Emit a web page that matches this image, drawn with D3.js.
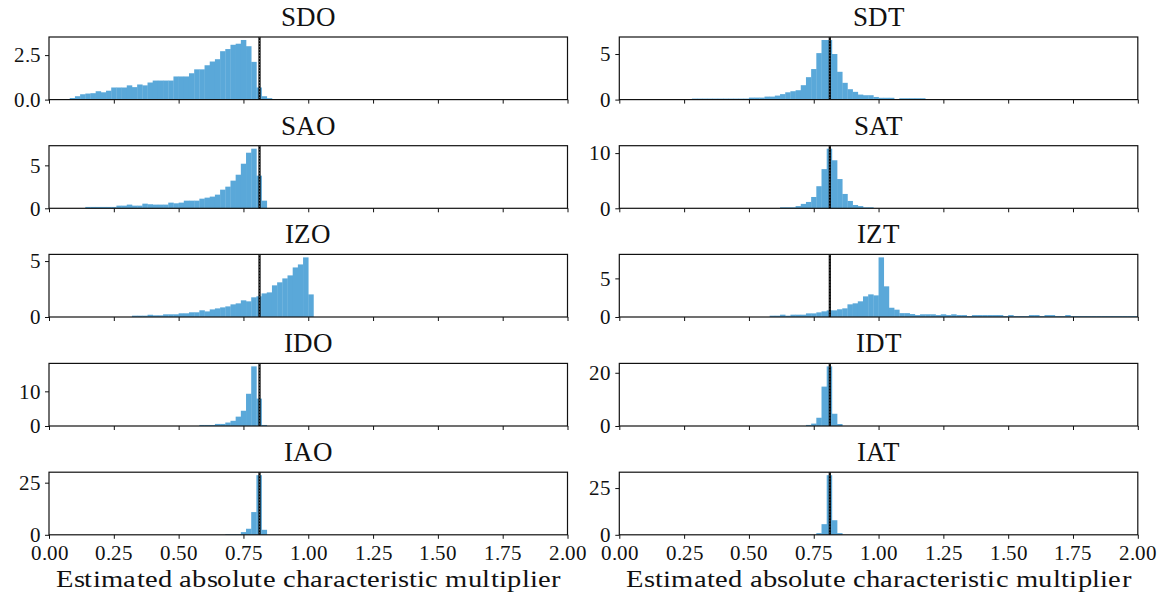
<!DOCTYPE html>
<html>
<head>
<meta charset="utf-8">
<script src="https://cdn.jsdelivr.net/npm/d3@7"></script>
<style>
  @font-face {
    font-family: "ChartSerif";
    src: local("Liberation Serif"), local("LiberationSerif"), local("LiberationSerif-Regular"),
         local("Tinos"), local("Tinos-Regular"),
         local("DejaVu Serif"), local("DejaVuSerif"),
         local("Noto Serif"), local("NotoSerif-Regular");
  }
  html, body { margin: 0; padding: 0; background: #fff; }
  svg { display: block; }
</style>
</head>
<body>
<svg id="chart" width="1173" height="598"></svg>
<script>
// Histogram bin width shared by all panels
const binWidth = 0.02;
// Reference multiplier marked by the vertical line
const refValue = 0.812;

// Panel titles (left column = O models, right column = T models)
const leftTitles = ["SDO", "SAO", "IZO", "IDO", "IAO"];
const rightTitles = ["SDT", "SAT", "IZT", "IDT", "IAT"];

// First bin edge of each histogram
const sdoStart = 0.08, saoStart = 0.14, izoStart = 0.32, idoStart = 0.58, iaoStart = 0.68;
const sdtStart = 0.28, satStart = 0.62, iztStart = 0.58, idtStart = 0.72, iatStart = 0.76;

// Density per bin
const sdoDensity = [0.09, 0.19, 0.3, 0.34, 0.36, 0.47, 0.41, 0.5, 0.68, 0.68,
  0.68, 0.8, 0.7, 0.85, 0.8, 0.96, 1.07, 1.07, 1.07, 1.07,
  1.3, 1.3, 1.3, 1.48, 1.7, 1.7, 1.93, 2.14, 2.27, 2.72,
  2.84, 3.08, 3.14, 3.35, 3.0, 2.12, 0.68, 0.19, 0.08];
const saoDensity = [0.16, 0.16, 0.16, 0.16, 0.16, 0.16, 0.31, 0.31, 0.43, 0.31,
  0.31, 0.54, 0.47, 0.43, 0.43, 0.43, 0.66, 0.58, 0.66, 0.89,
  0.89, 0.89, 1.12, 1.24, 1.36, 1.59, 2.17, 2.52, 3.22, 3.91,
  5.19, 6.47, 6.94, 3.8, 0.89];
const izoDensity = [0.12, 0.12, 0.12, 0.2, 0.15, 0.15, 0.24, 0.24, 0.24, 0.33,
  0.33, 0.42, 0.42, 0.6, 0.5, 0.68, 0.77, 0.86, 0.95, 1.13,
  1.22, 1.49, 1.4, 1.76, 1.85, 2.11, 2.2, 2.83, 3.1, 3.45,
  3.72, 4.43, 4.7, 5.33, 2.02];
const idoDensity = [0.3, 0.3, 0.3, 0.6, 0.6, 1.0, 1.5, 2.7, 4.4, 9.3, 17.2, 7.9, 0.3];
const iaoDensity = [0.3, 0.3, 0.3, 1.3, 2.9, 10.9, 28.6, 2.4];
const sdtDensity = [0.11, 0.11, 0.11, 0.11, 0.11, 0.11, 0.11, 0.11, 0.11, 0.11,
  0.11, 0.22, 0.22, 0.22, 0.33, 0.33, 0.44, 0.6, 0.8, 0.92,
  1.03, 1.58, 2.46, 3.35, 5.1, 6.54, 6.54, 5.0, 3.05, 1.84,
  1.14, 0.85, 0.55, 0.48, 0.48, 0.29, 0.2, 0.2, 0.2, 0.06,
  0.15, 0.15, 0.15, 0.15, 0.15];
const satDensity = [0.18, 0.18, 0.18, 0.4, 0.8, 1.15, 2.05, 4.0, 7.1, 10.8,
  8.7, 5.3, 2.6, 1.33, 0.6, 0.4, 0.18, 0.18];
const iztDensity = [0.17, 0.17, 0.3, 0.17, 0.3, 0.3, 0.3, 0.47, 0.47, 0.6,
  0.73, 0.86, 0.86, 1.0, 1.12, 1.64, 1.77, 2.03, 2.67, 2.93,
  2.8, 7.72, 3.97, 1.2, 0.95, 0.5, 0.5, 0.38, 0.25, 0.35,
  0.35, 0.35, 0.25, 0.35, 0.25, 0.35, 0.25, 0.25, 0.12, 0.25,
  0.25, 0.25, 0.25, 0.25, 0.25, 0.12, 0.25, 0.12, 0.12, 0.12,
  0.25, 0.25, 0.12, 0.25, 0.25, 0.12, 0.12, 0.25, 0.12, 0.12,
  0.12, 0.12, 0.12, 0.12, 0.12, 0.12, 0.12, 0.12, 0.12, 0.12, 0.12];
const idtDensity = [0.4, 0.9, 3.1, 14.8, 22.4, 4.6, 0.75];
const iatDensity = [0.9, 5.7, 31.9, 7.8, 0.9];

// Y tick values per panel
const leftYTicks = [[0, 2.5], [0, 5], [0, 5], [0, 10], [0, 25]];
const rightYTicks = [[0, 5], [0, 10], [0, 5], [0, 20], [0, 25]];
const leftYFormat = [".1f", "d", "d", "d", "d"];
const rightYFormat = ["d", "d", "d", "d", "d"];

// X axis ticks and label
const xTicks = [0, 0.25, 0.5, 0.75, 1.0, 1.25, 1.5, 1.75, 2.0];
const xLabel = "Estimated absolute characteristic multiplier";

const leftStarts = [sdoStart, saoStart, izoStart, idoStart, iaoStart];
const rightStarts = [sdtStart, satStart, iztStart, idtStart, iatStart];
const leftData = [sdoDensity, saoDensity, izoDensity, idoDensity, iaoDensity];
const rightData = [sdtDensity, satDensity, iztDensity, idtDensity, iatDensity];

// Layout
const colLeft = [49, 619.3];
const panelW = 518.5;
const rowTop = [37, 145.7, 254.4, 363.4, 472.2];
const panelH = 62.6;
const barColor = "#5aa8d9";
const serif = "ChartSerif, 'Liberation Serif', 'DejaVu Serif', serif";

const svg = d3.select("#chart");

function bins(start, values) {
  return values.map((v, i) => {
    const x0 = +(start + i * binWidth).toFixed(4);
    return { x0, x1: +(x0 + binWidth).toFixed(4), v };
  });
}

function drawPanel(col, row, title, start, values, yTicks, yFmt) {
  const left = colLeft[col], top = rowTop[row];
  const g = svg.append("g").attr("transform", `translate(${left},${top})`);
  const x = d3.scaleLinear().domain([0, 2]).range([0, panelW]);
  const yMax = d3.max(values) * 1.05;
  const y = d3.scaleLinear().domain([0, yMax]).range([panelH, 0]);
  const data = bins(start, values);

  g.selectAll("rect.bar").data(data).join("rect")
    .attr("class", "bar")
    .attr("x", d => x(d.x0))
    .attr("width", d => x(d.x1) - x(d.x0) + 0.3)
    .attr("y", d => y(d.v))
    .attr("height", d => y(0) - y(d.v))
    .attr("fill", barColor);

  // reference line: solid black with a dotted overlay
  g.append("line")
    .attr("x1", x(refValue)).attr("x2", x(refValue))
    .attr("y1", 0).attr("y2", panelH)
    .attr("stroke", "#000").attr("stroke-width", 2.2);
  g.append("line")
    .attr("x1", x(refValue)).attr("x2", x(refValue))
    .attr("y1", 0).attr("y2", panelH)
    .attr("stroke", "#8a8a8a").attr("stroke-width", 0.7)
    .attr("stroke-dasharray", "1.2,1.8");

  // axes
  const isBottom = row === rowTop.length - 1;
  const xAxis = d3.axisBottom(x).tickValues(xTicks).tickSize(4).tickPadding(4)
    .tickFormat(isBottom ? d3.format(".2f") : () => "");
  const gx = g.append("g").attr("transform", `translate(0,${panelH})`).call(xAxis);
  const yAxis = d3.axisLeft(y).tickValues(yTicks).tickSize(4).tickPadding(4)
    .tickFormat(d3.format(yFmt));
  const gy = g.append("g").call(yAxis);
  [gx, gy].forEach(a => {
    a.attr("font-family", serif).attr("font-size", 21);
    a.select(".domain").remove();
    a.selectAll(".tick line").attr("stroke", "#111").attr("stroke-width", 1);
    a.selectAll(".tick text")
      .attr("font-family", serif)
      .style("font-family", serif)
      .style("font-size", "21px").attr("fill", "#111");
  });
  gx.selectAll(".tick text").attr("dy", "0.8em");
  gy.selectAll(".tick text").attr("dy", "0.32em");

  // frame
  g.append("rect").attr("x", 0).attr("y", 0).attr("width", panelW).attr("height", panelH)
    .attr("fill", "none").attr("stroke", "#111").attr("stroke-width", 1.2);

  g.append("text")
    .attr("x", panelW / 2).attr("y", -11)
    .attr("text-anchor", "middle")
    .attr("fill", "#111")
    .attr("font-family", serif)
    .style("font-family", serif)
    .style("font-size", "27px")
    .text(title);

  if (isBottom) {
    g.append("text")
      .attr("x", panelW / 2).attr("y", panelH + 52)
      .attr("text-anchor", "middle")
      .attr("fill", "#111")
      .attr("textLength", 505).attr("lengthAdjust", "spacingAndGlyphs")
      .attr("font-family", serif)
      .style("font-family", serif)
      .style("font-size", "24px")
      .text(xLabel);
  }
}

leftTitles.forEach((t, i) => drawPanel(0, i, t, leftStarts[i], leftData[i], leftYTicks[i], leftYFormat[i]));
rightTitles.forEach((t, i) => drawPanel(1, i, t, rightStarts[i], rightData[i], rightYTicks[i], rightYFormat[i]));
</script>
</body>
</html>
